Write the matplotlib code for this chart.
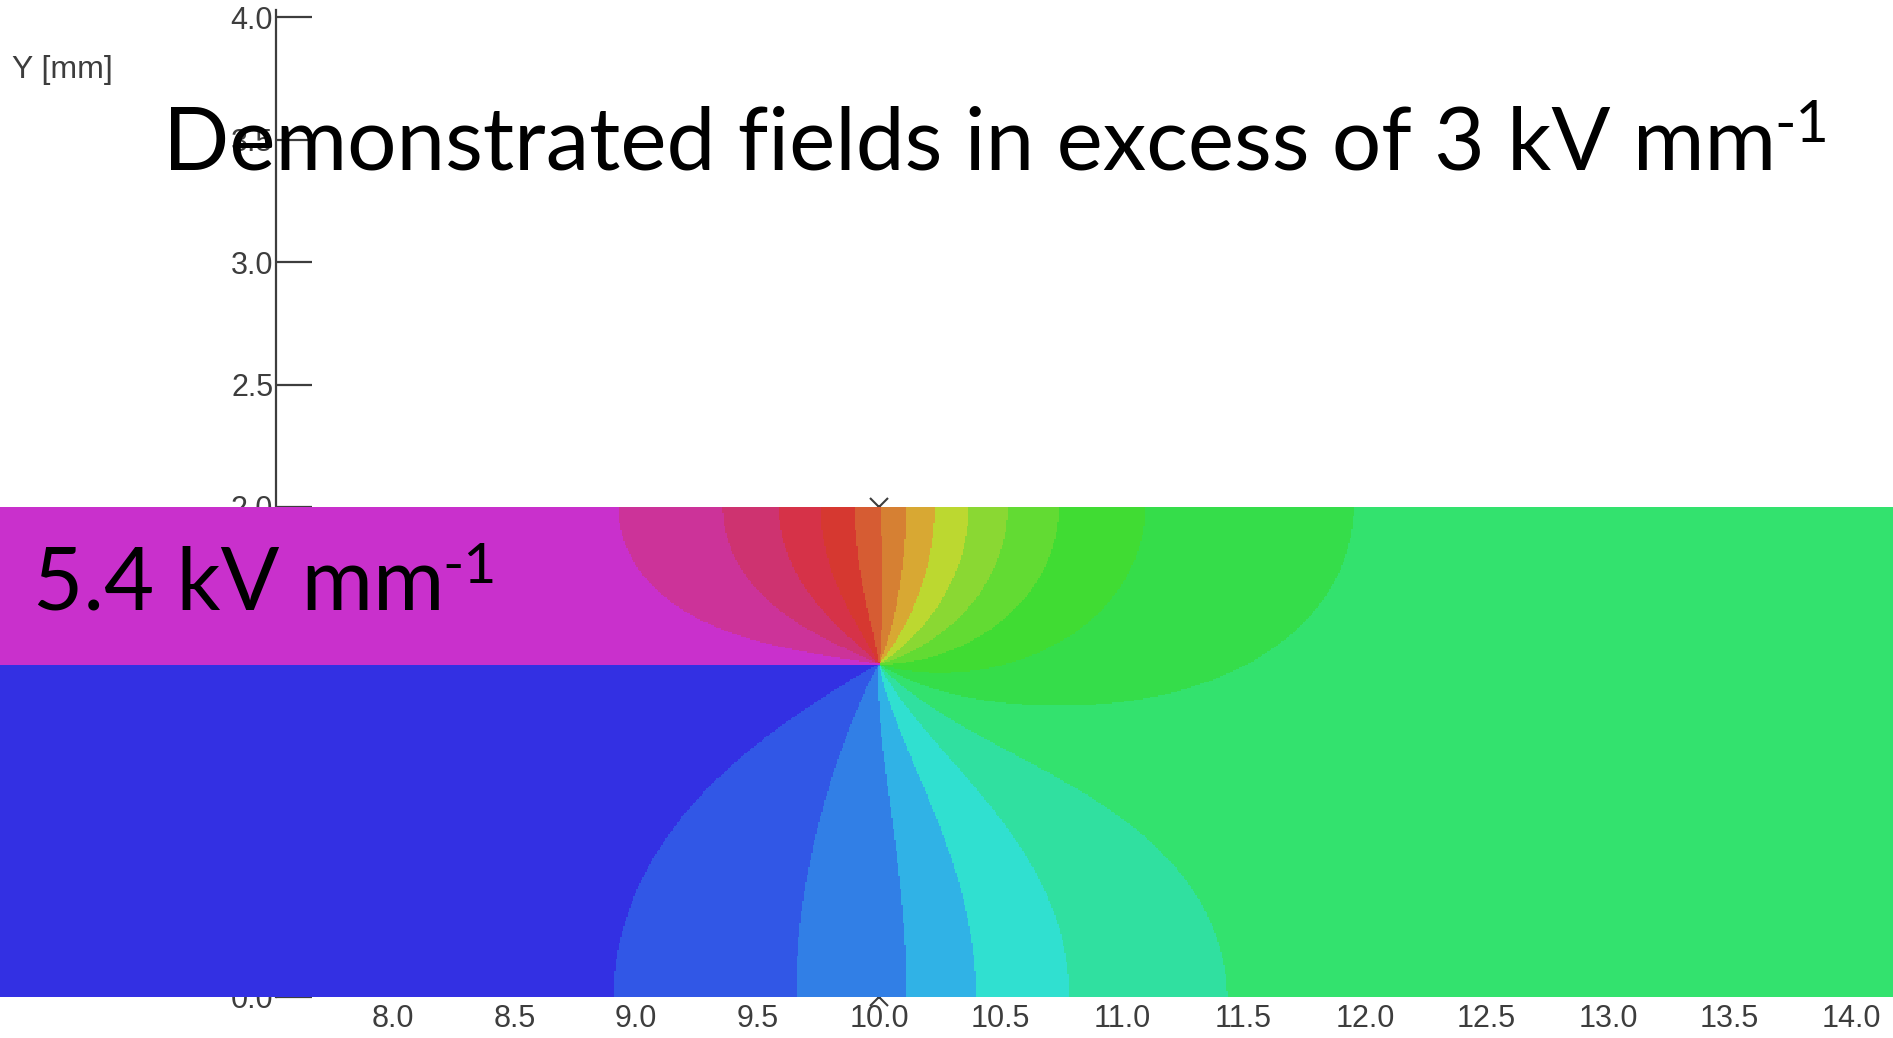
import numpy as np
import matplotlib
matplotlib.use("Agg")
import matplotlib.pyplot as plt
from matplotlib.colors import ListedColormap, BoundaryNorm

W_PX, H_PX, DPI = 1893, 1038, 100

# ---------------- chart values ----------------
x_tick_values = [8.0, 8.5, 9.0, 9.5, 10.0, 10.5, 11.0, 11.5, 12.0, 12.5, 13.0, 13.5, 14.0]
x_tick_labels = ["8.0", "8.5", "9.0", "9.5", "10.0", "10.5", "11.0", "11.5",
                 "12.0", "12.5", "13.0", "13.5", "14.0"]
y_tick_values = [0.0, 2.0, 2.5, 3.0, 3.5, 4.0]
y_tick_labels = ["0.0", "2.0", "2.5", "3.0", "3.5", "4.0"]
y_axis_label = "Y [mm]"

# film edge geometry (mm)
tip_x = 10.0
film_y = 1.36
gap_height = 2.0

# normalised potential bands, lowest (blue) to highest (magenta)
band_edges = [0.0, 0.076, 0.162, 0.230, 0.270, 0.313, 0.355, 0.396, 0.437, 0.483,
              0.528, 0.575, 0.626, 0.675, 0.719, 0.767, 0.823, 0.878, 0.929, 0.975, 1.0]
band_colors = ["#3330E3", "#3157E6", "#317FE6", "#30B2E6", "#30E0D0", "#30E0A0",
               "#33E26E", "#35DD4A", "#40DC33", "#62DB33", "#8AD833", "#BCD830",
               "#D8A833", "#D68033", "#D65C33", "#D63830", "#D63248", "#CE3370",
               "#CC3399", "#C930CC"]

probe_x = [10.0, 10.0]
probe_y = [0.0, 2.0]

headline = "Demonstrated fields in excess of 3 kV mm"
headline_sup = "-1"
field_label = "5.4 kV mm"
field_label_sup = "-1"

# ---------------- conformal map of the slotted strip ----------------
# strip 0 < y < gap_height with a thin film along y = film_y for x < tip_x;
# upper film face at potential 1, lower face at 0, strip walls insulating
K = gap_height / (2 * np.pi)
p = 1 - 2 * film_y / gap_height
C = tip_x - K * ((1 + p) * np.log(1 + p) + (1 - p) * np.log(1 - p))
tau = np.sqrt((1 - p) / (1 + p))


def z_of_w(w):
    return K * ((1 + p) * np.log(w + 1) + (1 - p) * np.log(w - 1)) + C


def dz_dw(w):
    return 2 * K * (w - p) / ((w + 1) * (w - 1))


def potential_t(t):
    return 1 - (np.angle(t + 1j * tau) - np.angle(t - 1j * tau)) / np.pi


def solve(zt, branch, iters=40):
    zc = (zt - C) / K
    if branch == 0:
        u = zc / 2
        shift = 0.0
    elif branch == 1:
        u = (zc - (1 - p) * (np.log(2) + 1j * np.pi)) / (1 + p)
        shift = -1.0
    else:
        u = (zc - (1 + p) * np.log(2)) / (1 - p)
        shift = 1.0
    with np.errstate(all="ignore"):
        for _ in range(iters):
            e = np.exp(u)
            w = shift + e
            f = z_of_w(w) - zt
            d = dz_dw(w) * e
            step = f / d
            mag = np.abs(step)
            step = np.where(mag > 0.5, step * 0.5 / mag, step)
            step = np.where(np.isfinite(step), step, 0)
            u = u - step
            u = u.real + 1j * np.clip(u.imag, 1e-12, np.pi - 1e-12)
        w = shift + np.exp(u)
        res = np.abs(z_of_w(w) - zt)
    res = np.where(np.isfinite(res), res, np.inf)
    return w, res


def field_on_grid(xs, ys):
    X, Y = np.meshgrid(xs, ys)
    zt = (X + 1j * Y).ravel()
    region = np.where(X.ravel() >= tip_x, 0, np.where(Y.ravel() > film_y, 1, 2))
    w = np.zeros_like(zt)
    res = np.full(zt.shape, np.inf)
    for b in range(3):
        m = region == b
        w[m], res[m] = solve(zt[m], b)
    for b in range(3):
        bad = res > 1e-7
        if not bad.any():
            break
        w2, r2 = solve(zt[bad], b)
        better = r2 < res[bad]
        idx = np.where(bad)[0][better]
        w[idx] = w2[better]
        res[idx] = r2[better]
    t = np.sqrt((w - 1) / (w + 1))
    return potential_t(t).reshape(X.shape)


# ---------------- layout ----------------
x_view = (10 - 879 / 243.0, 10 + (W_PX - 879) / 243.0)
y_view = (-(H_PX - 997) / 245.0, 997 / 245.0)

fig = plt.figure(figsize=(W_PX / DPI, H_PX / DPI), dpi=DPI)
fig.patch.set_facecolor("white")

axis_grey = "#3d3d3d"
small_font = ["Liberation Sans", "DejaVu Sans"]

# axes frame: y spine with inward ticks, x labels only
spine_x = 10 - (879 - 276) / 243.0
y_top = 4.03
ax_c = fig.add_axes([276 / W_PX, (H_PX - 997) / H_PX,
                     (W_PX - 276) / W_PX, (997 - 9.65) / H_PX])
ax_c.set_xlim(spine_x, x_view[1])
ax_c.set_ylim(0, y_top)
ax_c.patch.set_visible(False)
for side in ("top", "right", "bottom"):
    ax_c.spines[side].set_visible(False)
ax_c.spines["left"].set_color(axis_grey)
ax_c.spines["left"].set_linewidth(1.6)
ax_c.set_yticks(y_tick_values)
ax_c.set_yticklabels(y_tick_labels, family=small_font, fontsize=22, color=axis_grey)
ax_c.tick_params(axis="y", direction="in", length=26, width=1.6, color=axis_grey, pad=2)
ax_c.set_xticks(x_tick_values)
ax_c.set_xticklabels(x_tick_labels, family=small_font, fontsize=22, color=axis_grey)
ax_c.tick_params(axis="x", length=0, pad=5)
ax_c.plot(probe_x, probe_y, linestyle="none", marker="x", markersize=13,
          markeredgewidth=1.5, color=axis_grey, clip_on=False)

# field map on top of the frame
ax_f = fig.add_axes([0, 0, 1, 1])
ax_f.set_xlim(*x_view)
ax_f.set_ylim(*y_view)
ax_f.axis("off")
ax_f.patch.set_visible(False)

nx, ny = 1300, 336
dx = (x_view[1] - x_view[0]) / nx
dy = gap_height / ny
xs = x_view[0] + (np.arange(nx) + 0.5) * dx
ys = (np.arange(ny) + 0.5) * dy
V = field_on_grid(xs, ys)
cmap = ListedColormap(band_colors)
norm = BoundaryNorm(band_edges, cmap.N)
ax_f.imshow(V, origin="lower", extent=(x_view[0], x_view[1], 0, gap_height),
            cmap=cmap, norm=norm, interpolation="nearest", aspect="auto")
ax_f.set_xlim(*x_view)
ax_f.set_ylim(*y_view)

fig.text(12 / W_PX, 1 - 70 / H_PX, y_axis_label, family=small_font, fontsize=23,
         color=axis_grey, ha="left", va="center")

renderer = fig.canvas.get_renderer()


def slide_text(left_px, base_px, right_px, s, sup, guess):
    t = fig.text(left_px / W_PX, 1 - base_px / H_PX, s, family=["Lato", "DejaVu Sans"],
                 fontsize=guess, color="black", ha="left", va="baseline", zorder=10)
    bb = t.get_window_extent(renderer)
    fs = guess * (right_px - left_px) / bb.width
    t.set_fontsize(fs)
    bb = t.get_window_extent(renderer)
    em = fs * DPI / 72.0
    fig.text((bb.x1 - 0.02 * em) / W_PX, 1 - (base_px - 0.31 * em) / H_PX, sup,
             family=["Lato", "DejaVu Sans"], fontsize=fs * 0.66, color="black",
             ha="left", va="baseline", zorder=10)


slide_text(163, 169, 1778, headline, headline_sup, 60)
slide_text(33, 610, 444, field_label, field_label_sup, 60)

fig.savefig("out.png", dpi=DPI, facecolor="white")
